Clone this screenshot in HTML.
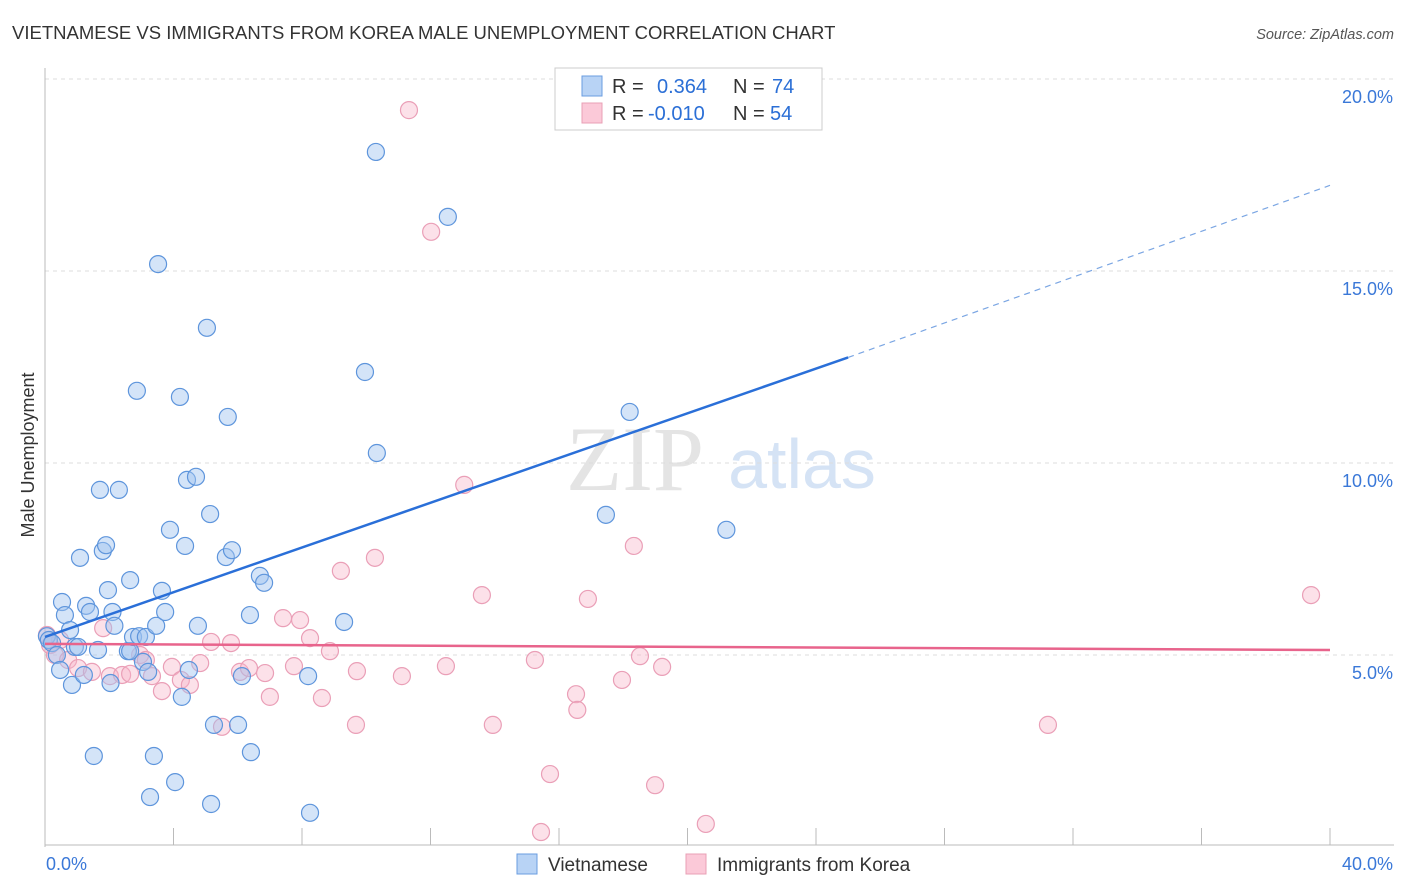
<!DOCTYPE html>
<html><head><meta charset="utf-8"><style>
body{margin:0;background:#fff;font-family:"Liberation Sans",sans-serif;}
#wrap{position:relative;width:1406px;height:892px;overflow:hidden}
</style></head><body>
<div id="wrap">
<svg id="svg" width="1406" height="892" xmlns="http://www.w3.org/2000/svg">
<text x="12" y="39" font-size="18.5" fill="#333">VIETNAMESE VS IMMIGRANTS FROM KOREA MALE UNEMPLOYMENT CORRELATION CHART</text>
<text x="1394" y="39" font-size="14.5" fill="#555" font-style="italic" text-anchor="end">Source: ZipAtlas.com</text>
<text x="635" y="490" font-size="92" fill="#e4e4e4" font-family="Liberation Serif,serif" text-anchor="middle">ZIP</text>
<text x="802" y="488" font-size="70" fill="#d5e3f5" text-anchor="middle">atlas</text>
<text x="34" y="455" font-size="18" fill="#333" transform="rotate(-90 34 455)" text-anchor="middle">Male Unemployment</text>
<g id="grid"></g><g id="marks"></g>
<g>
<rect x="555" y="68" width="267" height="62" fill="#fff" stroke="#ccc"/>
<rect x="582" y="76" width="20" height="20" fill="#b8d3f5" stroke="#6a9de0"/>
<rect x="582" y="103" width="20" height="20" fill="#fbc9d8" stroke="#e8a0b6"/>
<text x="612" y="93" font-size="20" fill="#333">R =</text>
<text x="657" y="93" font-size="20" fill="#2b6fd6">0.364</text>
<text x="733" y="93" font-size="20" fill="#333">N =</text>
<text x="772" y="93" font-size="20" fill="#2b6fd6">74</text>
<text x="612" y="120" font-size="20" fill="#333">R =</text>
<text x="648" y="120" font-size="20" fill="#2b6fd6">-0.010</text>
<text x="733" y="120" font-size="20" fill="#333">N =</text>
<text x="770" y="120" font-size="20" fill="#2b6fd6">54</text>
</g>
<g>
<rect x="517" y="854" width="20" height="20" fill="#b8d3f5" stroke="#6a9de0"/>
<text x="548" y="871" font-size="19" fill="#333">Vietnamese</text>
<rect x="686" y="854" width="20" height="20" fill="#fbc9d8" stroke="#e8a0b6"/>
<text x="717" y="871" font-size="19" fill="#333">Immigrants from Korea</text>
</g>
</svg></div>
<script>
const yTicks=[5,10,15,20];
const yTickLabels=["5.0%","10.0%","15.0%","20.0%"];
const xEndLabels=["0.0%","40.0%"];
const blueX=[0.06,0.12,0.22,0.37,0.47,0.53,0.62,0.78,0.84,0.93,1.03,1.09,1.21,1.28,1.4,1.52,1.65,1.71,1.8,1.9,1.96,2.04,2.1,2.16,2.3,2.58,2.65,2.65,2.74,2.86,2.93,3.05,3.14,3.21,3.27,3.39,3.46,3.52,3.64,3.74,3.89,4.05,4.2,4.26,4.36,4.42,4.48,4.7,4.76,5.04,5.14,5.17,5.26,5.63,5.69,5.82,6.01,6.13,6.38,6.41,6.69,6.82,8.19,8.25,9.31,9.96,10.3,10.33,12.54,17.46,18.2,21.21];
const blueY=[5.49,5.39,5.31,5.0,4.61,6.38,6.04,5.65,4.22,5.21,5.21,7.53,4.48,6.28,6.12,2.37,5.13,9.30,7.71,7.86,6.69,4.27,6.12,5.76,9.30,5.10,5.10,6.95,5.47,11.88,5.49,4.82,5.47,4.56,1.30,2.37,5.76,15.18,6.67,6.12,8.26,1.69,11.72,3.91,7.84,9.56,4.61,9.64,5.76,13.52,8.67,1.12,3.18,7.55,11.20,7.73,3.18,4.45,6.04,2.47,7.06,6.88,4.45,0.89,5.86,12.37,18.10,10.26,16.41,8.65,11.33,8.26];
const pinkX=[11.33,12.02,13.05,10.27,9.21,13.6,16.9,18.33,39.41,0.06,0.16,0.31,0.47,0.72,1.03,1.46,1.81,2.02,2.4,2.65,2.96,3.14,3.33,3.64,3.95,4.23,4.51,4.83,5.17,5.51,5.79,6.07,6.35,6.85,7.0,7.41,7.75,7.94,8.25,8.62,8.87,9.68,9.71,11.11,12.48,13.94,15.25,15.44,15.72,16.53,16.57,17.96,18.52,18.99,19.21,20.57,31.22];
const pinkY=[19.19,16.02,9.43,7.53,7.19,6.56,6.46,7.84,6.56,5.52,5.26,5.0,5.39,4.87,4.66,4.56,5.70,4.45,4.48,4.51,5.0,4.87,4.45,4.06,4.69,4.35,4.22,4.79,5.34,3.13,5.31,4.56,4.66,4.53,3.91,5.96,4.71,5.91,5.44,3.88,5.10,3.18,4.58,4.45,4.71,3.18,4.87,0.39,1.90,3.98,3.57,4.35,4.97,1.61,4.69,0.60,3.18];
const X0=45,X1=1330,YB=847,PPY=38.4;
const sx=v=>X0+(v/40)*(X1-X0), sy=v=>YB-v*PPY;
const NS="http://www.w3.org/2000/svg";
function mk(t,a,p){const e=document.createElementNS(NS,t);for(const k in a)e.setAttribute(k,a[k]);p.appendChild(e);return e;}
const grid=document.getElementById('grid'),marks=document.getElementById('marks');
yTicks.forEach((t,i)=>{
 const g=mk('line',{x1:X0,x2:1394,y1:sy(t),y2:sy(t),stroke:'#ddd','stroke-dasharray':'4,4'},grid);
 
 
 const l=mk('text',{x:1393,y:sy(t)+24,'font-size':18,fill:'#3a78d8','text-anchor':'end'},grid);l.textContent=yTickLabels[i];
 
 
});
const ax=mk('line',{x1:X0,x2:X0,y1:68,y2:YB,stroke:'#bbb'},grid);


const bx=mk('line',{x1:X0,x2:1394,y1:845,y2:845,stroke:'#bbb'},grid);


for(let i=1;i<=10;i++){const t=mk('line',{x1:sx(i*4),x2:sx(i*4),y1:828,y2:845,stroke:'#bbb'},grid);
 
 }
[[xEndLabels[0],46,'start'],[xEndLabels[1],1393,'end']].forEach(a=>{const t=mk('text',{x:a[1],y:870,'font-size':18,fill:'#3a78d8','text-anchor':a[2]},grid);t.textContent=a[0];
 
 });
pinkX.forEach((x,i)=>{const c=mk('circle',{cx:sx(x),cy:sy(pinkY[i]),r:8.5,fill:'rgba(248,180,200,0.4)',stroke:'#ea9fb7','stroke-width':1.2},marks);
 
 });
blueX.forEach((x,i)=>{const c=mk('circle',{cx:sx(x),cy:sy(blueY[i]),r:8.5,fill:'rgba(160,196,240,0.45)',stroke:'#5e95dc','stroke-width':1.2},marks);
 
 });
const bl=mk('line',{x1:sx(0),y1:sy(5.47),x2:sx(25),y2:sy(12.75),stroke:'#2a6fd8','stroke-width':2.5},marks);


const bd=mk('line',{x1:sx(25),y1:sy(12.75),x2:sx(40),y2:sy(17.23),stroke:'#7ba6e3','stroke-width':1.2,'stroke-dasharray':'6,5'},marks);


const pl=mk('line',{x1:sx(0),y1:sy(5.29),x2:sx(40),y2:sy(5.13),stroke:'#e8648c','stroke-width':2.5},marks);


</script></body></html>
